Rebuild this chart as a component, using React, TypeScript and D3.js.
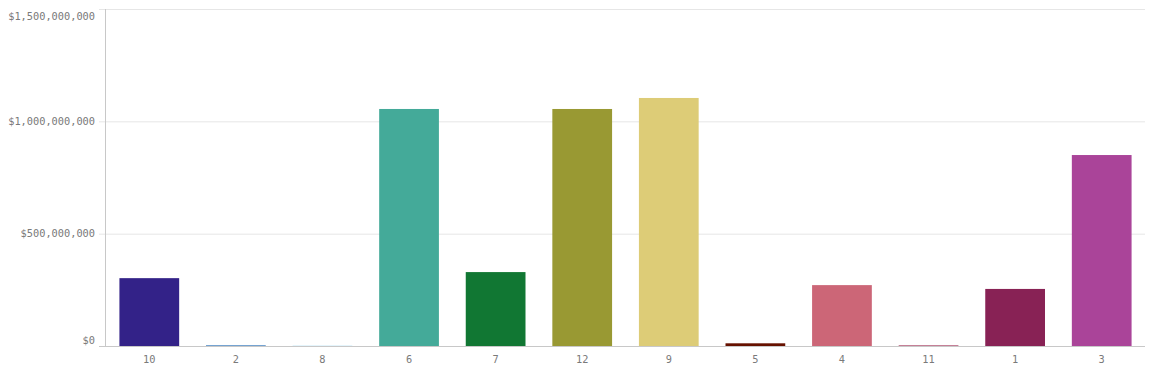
import React from "react";
import * as d3 from "d3";

const categories = ["10", "2", "8", "6", "7", "12", "9", "5", "4", "11", "1", "3"];
const values = [302000000, 4000000, 1000000, 1055000000, 329000000, 1055000000, 1104000000, 12000000, 271000000, 3000000, 254000000, 850000000];
const colors = ["#332288", "#6699cc", "#88ccee", "#44aa99", "#117733", "#999933", "#ddcc77", "#661100", "#cc6677", "#aa4466", "#882255", "#aa4499"];
const yTicks = [0, 500000000, 1000000000, 1500000000];

const W = 1149, H = 369;
const left = 106, right = 1145, top = 9, bottom = 346;

export default function App() {
  const x = d3.scaleBand<string>().domain(categories).range([left, right]).paddingInner(0.31).paddingOuter(0.155);
  const y = d3.scaleLinear().domain([0, 1500000000]).range([bottom, top]);
  const fmt = (v: number) => "$" + d3.format(",")(v);
  const font = "'DejaVu Sans Mono', monospace";
  const labelY = (t: number) => {
    const p = y(t);
    if (p - 7 < top) return top + 7;
    if (p + 7 > bottom) return bottom - 6;
    return p;
  };
  return (
    <svg width={W} height={H} style={{ position: "absolute", left: 0, top: 0 }}>
      {yTicks.map((t) => (
        <g key={t}>
          {t > 0 && <line x1={99} x2={right} y1={y(t) + 0.5} y2={y(t) + 0.5} stroke="#e6e6e6" />}
          <text x={95} y={labelY(t)} dy="0.35em" textAnchor="end" fontFamily={font} fontSize={10.3} fill="#7a7a7a">{fmt(t)}</text>
        </g>
      ))}
      {categories.map((c, i) => (
        <rect key={c} x={x(c)} y={y(values[i])} width={x.bandwidth()} height={bottom - y(values[i])} fill={colors[i]} />
      ))}
      <line x1={left - 0.5} x2={left - 0.5} y1={top} y2={bottom} stroke="#c8c8c8" />
      <line x1={99} x2={right} y1={bottom + 0.5} y2={bottom + 0.5} stroke="#c8c8c8" />
      {categories.map((c) => (
        <text key={c} x={(x(c) as number) + x.bandwidth() / 2} y={359} dy="0.35em" textAnchor="middle" fontFamily={font} fontSize={10.3} fill="#7a7a7a">{c}</text>
      ))}
    </svg>
  );
}
